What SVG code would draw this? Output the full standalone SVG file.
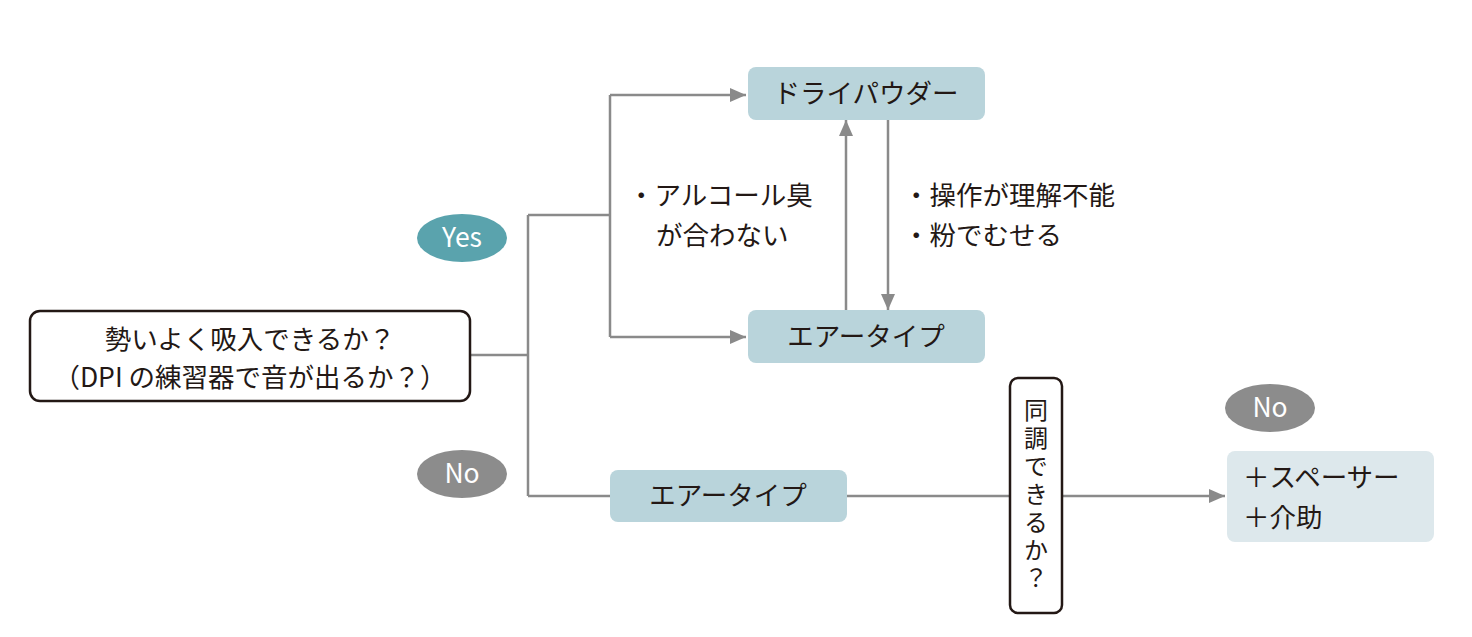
<svg xmlns="http://www.w3.org/2000/svg" width="1472" height="637" viewBox="0 0 1472 637">
<style>
text{font-family:"Noto Sans CJK JP","Noto Sans",sans-serif;font-size:26.5px;fill:#231815}
.v{font-size:24px;writing-mode:vertical-rl;letter-spacing:4px}
.ln{stroke:#8a8a8a;stroke-width:2.5;fill:none}
.blue{fill:#b9d4db}
.q{fill:#fff;stroke:#231815;stroke-width:2.5}
.w{fill:#fff}
</style>
<defs>
<marker id="b" markerWidth="16" markerHeight="16" refX="16" refY="8" orient="auto" markerUnits="userSpaceOnUse"><path d="M0,1L16,8L0,15z" fill="#8a8a8a"/></marker></defs>
<g id="connectors">
<path class="ln" d="M470,355H528M528,215V496M528,215H610M610,95V337M528,496H610M847,496H1010"/>
<path class="ln" d="M610,95H746" marker-end="url(#b)"/>
<path class="ln" d="M610,337H746" marker-end="url(#b)"/>
<path class="ln" d="M846,310V120" marker-end="url(#b)"/>
<path class="ln" d="M888,120V310" marker-end="url(#b)"/>
<path class="ln" d="M1062,496H1225" marker-end="url(#b)"/>
</g>
<g id="start"><rect class="q" x="30" y="311" width="440" height="90" rx="10"/>
<text x="250" y="349" text-anchor="middle">勢いよく吸入できるか？</text>
<text x="250" y="387" text-anchor="middle">（DPI の練習器で音が出るか？）</text></g>
<g id="dry"><rect class="blue" x="748" y="67" width="237" height="53" rx="8"/><text x="866" y="103" text-anchor="middle">ドライパウダー</text></g>
<g id="air1"><rect class="blue" x="748" y="310" width="237" height="53" rx="8"/><text x="866" y="346" text-anchor="middle">エアータイプ</text></g>
<g id="air2"><rect class="blue" x="610" y="470" width="237" height="52" rx="8"/><text x="728" y="505" text-anchor="middle">エアータイプ</text></g>
<g id="label1"><text x="628" y="205">・アルコール臭</text><text x="656" y="245">が合わない</text></g>
<g id="label2"><text x="903" y="205">・操作が理解不能</text><text x="903" y="245">・粉でむせる</text></g>
<g id="yes"><ellipse cx="462" cy="238" rx="45" ry="24" fill="#5aa3ad"/><text class="w" x="462" y="247" text-anchor="middle">Yes</text></g>
<g id="no1"><ellipse cx="462" cy="474" rx="45" ry="24" fill="#8c8c8c"/><text class="w" x="462" y="483" text-anchor="middle">No</text></g>
<g id="no2"><ellipse cx="1270" cy="408" rx="45" ry="24" fill="#8c8c8c"/><text class="w" x="1270" y="417" text-anchor="middle">No</text></g>
<g id="sync"><rect class="q" x="1010" y="378" width="52" height="235" rx="8"/>
<text class="v" x="1036" y="398">同調できるか？</text></g>
<g id="spacer"><rect x="1227" y="451" width="207" height="91" rx="8" fill="#dde8ec"/><text x="1243" y="487">＋スペーサー</text><text x="1243" y="527">＋介助</text></g>
</svg>
